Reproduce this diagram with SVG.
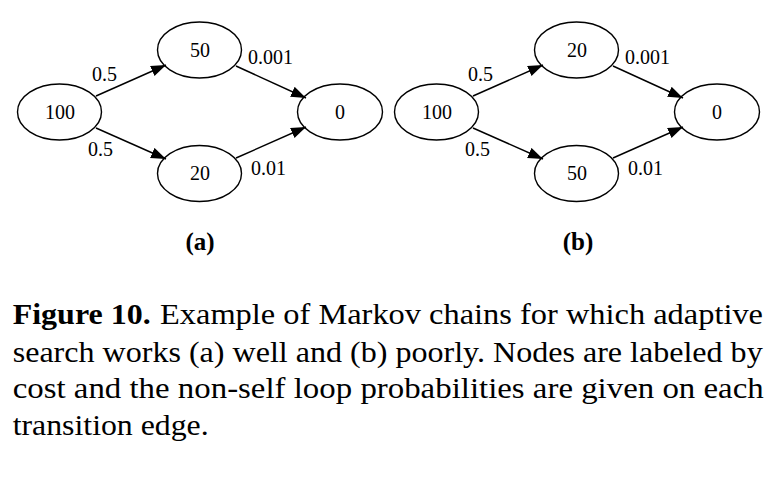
<svg xmlns="http://www.w3.org/2000/svg" width="771" height="478" viewBox="0 0 771 478">
<style>
.n{fill:none;stroke:#000;stroke-width:1.4}
.t{font-family:"Liberation Serif","Times New Roman",serif;font-size:20px;fill:#000;text-anchor:middle}
.l{font-family:"Liberation Serif","Times New Roman",serif;font-size:20px;fill:#000}
.e{stroke:#000;stroke-width:1.4;fill:none;marker-end:url(#ah)}
.sub{font-family:"Liberation Serif","Times New Roman",serif;font-size:25px;font-weight:bold;text-anchor:middle}
.cap{font-family:"Liberation Serif","Times New Roman",serif;font-size:29px;fill:#000}
</style>
<defs>
<marker id="ah" markerUnits="userSpaceOnUse" markerWidth="16" markerHeight="12" refX="15" refY="5.5" orient="auto">
<path d="M0,0 L15,5.5 L0,11 z" fill="#000"/>
</marker>
</defs>
<rect width="771" height="478" fill="#fff"/>
<g id="connectors">
<line class="e" x1="96" y1="96" x2="166" y2="65"/>
<line class="e" x1="96" y1="128" x2="166" y2="159"/>
<line class="e" x1="236" y1="66" x2="306" y2="98"/>
<line class="e" x1="236" y1="158" x2="306" y2="127"/>
<line class="e" x1="473" y1="96" x2="543" y2="65"/>
<line class="e" x1="473" y1="128" x2="543" y2="159"/>
<line class="e" x1="613" y1="66" x2="683" y2="98"/>
<line class="e" x1="613" y1="158" x2="683" y2="127"/>
<text class="l" x="92" y="81">0.5</text>
<text class="l" x="88" y="156">0.5</text>
<text class="l" x="248" y="64">0.001</text>
<text class="l" x="251" y="175">0.01</text>
<text class="l" x="468" y="81">0.5</text>
<text class="l" x="465" y="156">0.5</text>
<text class="l" x="625" y="64">0.001</text>
<text class="l" x="628" y="175">0.01</text>
</g>
<g id="a100"><ellipse class="n" cx="59.5" cy="112" rx="42" ry="28"/><text class="t" x="60" y="119">100</text></g>
<g id="a50"><ellipse class="n" cx="199.5" cy="50" rx="42" ry="28"/><text class="t" x="200" y="57">50</text></g>
<g id="a20"><ellipse class="n" cx="199.5" cy="173.5" rx="42" ry="28"/><text class="t" x="200" y="180">20</text></g>
<g id="a0"><ellipse class="n" cx="340" cy="112" rx="42.5" ry="28"/><text class="t" x="340" y="119">0</text></g>
<g id="b100"><ellipse class="n" cx="436.5" cy="112" rx="42" ry="28"/><text class="t" x="437" y="119">100</text></g>
<g id="b20"><ellipse class="n" cx="576.5" cy="50" rx="42" ry="28"/><text class="t" x="577" y="57">20</text></g>
<g id="b50"><ellipse class="n" cx="576.5" cy="173.5" rx="42" ry="28"/><text class="t" x="577" y="180">50</text></g>
<g id="b0"><ellipse class="n" cx="717" cy="112" rx="42.5" ry="28"/><text class="t" x="717" y="119">0</text></g>
<text class="sub" x="200" y="250">(a)</text>
<text class="sub" x="578" y="250">(b)</text>
<text class="cap" x="12.7" y="324" font-weight="bold" textLength="138" lengthAdjust="spacingAndGlyphs">Figure 10.</text>
<text class="cap" x="160" y="324" textLength="603" lengthAdjust="spacingAndGlyphs">Example of Markov chains for which adaptive</text>
<text class="cap" x="12.7" y="362" textLength="750" lengthAdjust="spacingAndGlyphs">search works (a) well and (b) poorly. Nodes are labeled by</text>
<text class="cap" x="12.7" y="398" textLength="751" lengthAdjust="spacingAndGlyphs">cost and the non-self loop probabilities are given on each</text>
<text class="cap" x="12.7" y="435" textLength="196" lengthAdjust="spacingAndGlyphs">transition edge.</text>
</svg>
